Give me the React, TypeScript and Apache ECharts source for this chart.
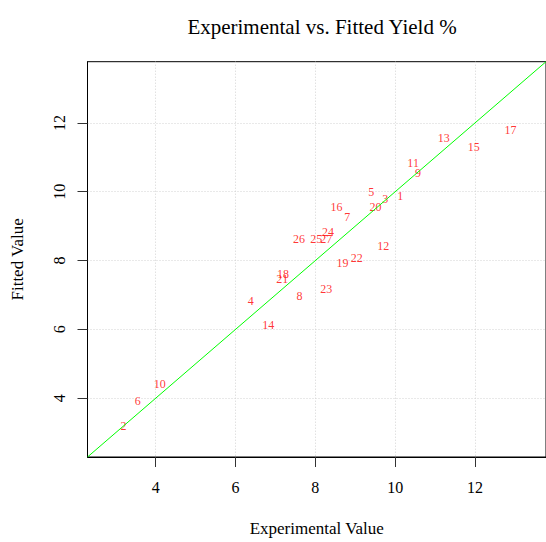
import { useEffect, useRef } from "react";
import * as echarts from "echarts";

const runIds = [
  "1", "2", "3", "4", "5", "6", "7", "8", "9", "10", "11", "12", "13", "14",
  "15", "16", "17", "18", "19", "20", "21", "22", "23", "24", "25", "26", "27",
];
const experimental = [
  10.13, 3.19, 9.75, 6.38, 9.4, 3.55, 8.8, 7.6, 10.57, 4.1, 10.45, 9.7, 11.22, 6.82,
  11.97, 8.53, 12.89, 7.19, 8.68, 9.51, 7.17, 9.04, 8.27, 8.32, 8.02, 7.59, 8.27,
];
const fitted = [
  9.88, 3.18, 9.79, 6.82, 9.99, 3.92, 9.28, 6.97, 10.55, 4.41, 10.85, 8.43, 11.57, 6.12,
  11.29, 9.55, 11.8, 7.61, 7.93, 9.57, 7.47, 8.07, 7.16, 8.83, 8.64, 8.63, 8.62,
];
const tickValues = [4, 6, 8, 10, 12];
const axisRange = [2.29, 13.78];
const identityLine = [2.29, 13.78];

const titleText = "Experimental vs. Fitted Yield %";
const xTitle = "Experimental Value";
const yTitle = "Fitted Value";

export default function App() {
  const ref = useRef<HTMLDivElement>(null);
  useEffect(() => {
    const chart = echarts.init(ref.current!, null, { renderer: "svg" });
    const font = "'Liberation Serif', 'Times New Roman', serif";
    const axisCommon = (rotate: number, margin: number) => ({
      type: "value",
      min: axisRange[0],
      max: axisRange[1],
      axisLine: { show: true, onZero: false, lineStyle: { color: "#000", width: 1 } },
      axisTick: {
        show: true,
        length: 10,
        customValues: tickValues,
        lineStyle: { color: "#333", width: 1 },
      },
      axisLabel: {
        customValues: tickValues,
        rotate,
        margin,
        fontSize: 16,
        color: "#000",
        fontFamily: font,
      },
      splitLine: {
        show: true,
        lineStyle: { color: "#d3d3d3", width: 1, type: [1, 2] },
      },
      nameLocation: "middle",
      nameTextStyle: { fontSize: 17, color: "#000", fontFamily: font },
    });
    chart.setOption({
      animation: false,
      backgroundColor: "#fff",
      title: {
        text: titleText,
        left: 317,
        top: 11,
        textAlign: "center",
        textStyle: { fontSize: 21, fontWeight: "normal", color: "#000", fontFamily: font },
      },
      grid: {
        left: 87.5,
        top: 61.7,
        width: 461,
        height: 400,
        show: true,
        borderColor: "#000",
        borderWidth: 1,
        backgroundColor: "transparent",
      },
      xAxis: { ...axisCommon(0, 22), name: xTitle, nameGap: 63 },
      yAxis: { ...axisCommon(90, 20), name: yTitle, nameGap: 62 },
      series: [
        {
          type: "scatter",
          symbol: "circle",
          symbolSize: 1,
          itemStyle: { color: "rgba(0,0,0,0)" },
          data: experimental.map((x, i) => ({ name: runIds[i], value: [x, fitted[i]] })),
          label: {
            show: true,
            position: "inside",
            formatter: (p: any) => p.name,
            color: "#ff0000",
            fontSize: 12,
            fontFamily: font,
          },
          z: 3,
        },
        {
          type: "line",
          symbol: "none",
          data: [
            [identityLine[0], identityLine[0]],
            [identityLine[1], identityLine[1]],
          ],
          lineStyle: { color: "#00ff00", width: 1 },
          z: 4,
        },
      ],
    });
    return () => chart.dispose();
  }, []);
  return (
    <div
      ref={ref}
      style={{ position: "fixed", left: 0, top: 0, width: 546, height: 542, background: "#fff" }}
    />
  );
}
